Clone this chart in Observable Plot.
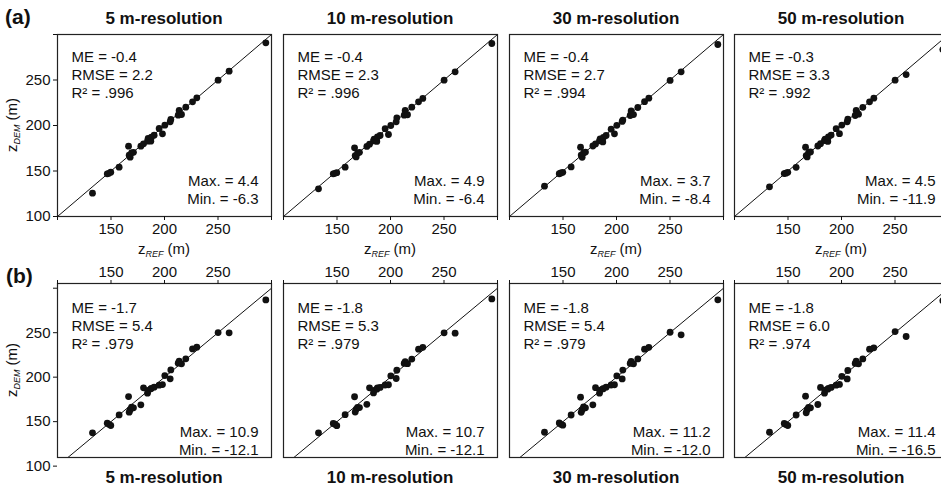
<!DOCTYPE html>
<html><head><meta charset="utf-8">
<script src="https://cdn.jsdelivr.net/npm/d3@7"></script>
<script src="https://cdn.jsdelivr.net/npm/@observablehq/plot@0.6"></script>
<style>
body{margin:0;background:#fff;overflow:hidden}
#chart{position:relative;width:941px;height:497px;overflow:hidden;font-family:"Liberation Sans",Arial,sans-serif;color:#111;background:#fff}
.lbl{position:absolute;white-space:nowrap;line-height:1}
.c{transform:translate(-50%,-50%)}
.zl{font-size:15px}
.zl sub{font-size:9px;font-style:italic;vertical-align:-3px}
.panel{position:absolute}
</style></head><body><div id="chart"></div>
<script>
// ---------------- data ----------------
const resolutions = ["5 m-resolution", "10 m-resolution", "30 m-resolution", "50 m-resolution"];
const rowLetters = ["(a)", "(b)"];

// reference elevations (same validation points in every panel)
const zRef = [132.7, 146.5, 148.0, 149.8, 157.6, 166.4, 167.0, 167.9, 169.2, 171.0, 177.9, 180.4, 184.1, 184.7, 187.2, 187.8, 190.3, 195.0, 198.1, 200.3, 205.3, 205.9, 212.8, 213.7, 215.9, 219.9, 226.2, 230.2, 250.1, 260.4, 294.7];

// row (a) DEM elevations
const zDemA5  = [125.6, 146.9, 147.5, 148.7, 154.2, 177.3, 167.4, 165.2, 170.0, 170.5, 177.3, 179.9, 182.8, 185.7, 182.8, 187.2, 189.4, 196.7, 190.8, 200.4, 204.0, 206.6, 211.4, 216.5, 212.1, 220.1, 226.0, 230.4, 249.8, 259.7, 290.8];
const zDemA10 = [130.4, 146.9, 147.5, 148.2, 154.2, 175.5, 167.0, 165.5, 169.5, 170.5, 177.0, 179.5, 183.0, 185.0, 182.5, 187.5, 189.0, 196.5, 190.1, 200.0, 204.0, 208.4, 211.4, 216.5, 211.8, 220.1, 226.0, 229.7, 249.8, 259.0, 290.1];
const zDemA30 = [133.3, 147.0, 147.8, 148.5, 154.5, 176.2, 167.5, 165.0, 169.8, 170.8, 177.5, 179.8, 183.2, 185.3, 182.0, 187.0, 189.0, 196.0, 190.8, 200.2, 204.5, 206.0, 211.0, 216.0, 212.0, 219.8, 226.2, 230.0, 249.5, 259.0, 289.0];
const zDemA50 = [132.6, 147.2, 147.6, 148.5, 154.0, 176.2, 167.0, 165.5, 170.0, 171.0, 177.5, 180.0, 183.5, 185.0, 182.5, 187.5, 189.5, 196.5, 191.0, 200.5, 204.0, 207.0, 211.0, 216.5, 212.5, 220.0, 226.0, 230.0, 249.8, 256.0, 283.5];

// row (b) DEM elevations
const zDemB5  = [137.4, 148.3, 147.0, 145.7, 157.6, 178.2, 160.6, 163.5, 166.2, 165.5, 168.9, 188.0, 182.0, 185.0, 186.9, 187.5, 188.7, 191.0, 191.7, 201.8, 198.1, 208.2, 215.7, 217.9, 215.0, 220.6, 231.8, 233.7, 250.1, 249.8, 286.8];
const zDemB10 = [137.4, 148.0, 147.2, 145.5, 157.8, 178.0, 160.8, 163.8, 166.0, 165.8, 169.5, 188.0, 182.3, 185.2, 186.5, 187.8, 188.5, 191.2, 191.5, 201.5, 198.5, 207.8, 215.5, 217.5, 215.2, 220.3, 231.5, 233.5, 249.8, 249.5, 288.0];
const zDemB30 = [138.1, 148.5, 147.0, 146.0, 157.5, 177.5, 160.5, 163.5, 166.5, 165.5, 168.9, 188.2, 182.0, 185.3, 186.8, 187.2, 188.8, 191.2, 191.5, 201.5, 198.0, 208.0, 215.5, 217.8, 215.0, 220.5, 231.5, 233.5, 250.5, 247.6, 287.0];
const zDemB50 = [138.1, 148.0, 146.8, 145.7, 157.5, 178.6, 160.0, 163.5, 166.0, 165.5, 169.3, 188.5, 182.0, 185.5, 186.5, 187.5, 188.5, 191.0, 191.8, 201.0, 198.0, 207.5, 215.5, 218.0, 215.0, 220.5, 231.5, 233.0, 251.3, 245.7, 286.0];

const zDem = [[zDemA5, zDemA10, zDemA30, zDemA50], [zDemB5, zDemB10, zDemB30, zDemB50]];

// statistics printed in the panels
const meVals   = [["-0.4", "-0.4", "-0.4", "-0.3"], ["-1.7", "-1.8", "-1.8", "-1.8"]];
const rmseVals = [["2.2", "2.3", "2.7", "3.3"], ["5.4", "5.3", "5.4", "6.0"]];
const r2Vals   = [[".996", ".996", ".994", ".992"], [".979", ".979", ".979", ".974"]];
const maxVals  = [["4.4", "4.9", "3.7", "4.5"], ["10.9", "10.7", "11.2", "11.4"]];
const minVals  = [["-6.3", "-6.4", "-8.4", "-11.9"], ["-12.1", "-12.1", "-12.0", "-16.5"]];

// axes
const xTicks = [100, 150, 200, 250, 300];
const xTickLabels = [150, 200, 250];
const yTicks = [100, 150, 200, 250, 300];
const yTickLabels = [100, 150, 200, 250];
const xDomain = [100, 300];
const yDomains = [[100, 300], [109.7, 305.3]];
const oneToOne = [80, 320];

// ---------------- layout ----------------
const chart = document.getElementById("chart");
const font = '"Liberation Sans", Arial, sans-serif';
const panelLeft = [57, 283, 509, 734];
const panelW = 214;
const rowTop = [34, 283];
const rowH = [182, 174];
const mL = 50, mR = 6;
const mT = [4, 30], mB = [30, 4];

function addLabel(html, cls, style) {
  const d = document.createElement("div");
  d.className = "lbl " + cls;
  d.innerHTML = html;
  Object.assign(d.style, style);
  chart.appendChild(d);
  return d;
}

for (let r = 0; r < 2; r++) {
  for (let c = 0; c < 4; c++) {
    const data = zRef.map((x, i) => ({x, y: zDem[r][c][i]}));
    const stats = `ME = ${meVals[r][c]}\nRMSE = ${rmseVals[r][c]}\nR² = ${r2Vals[r][c]}`;
    const ext = `Max. = ${maxVals[r][c]}\nMin. = ${minVals[r][c]}`;
    const marks = [
      Plot.line(oneToOne, {x: d => d, y: d => d, clip: true, stroke: "#111", strokeWidth: 1}),
      Plot.dot(data, {x: "x", y: "y", r: 3.4, fill: "#111", stroke: null}),
      Plot.frame({stroke: "#222", strokeWidth: 1.2}),
      Plot.axisX({anchor: r === 0 ? "bottom" : "top", ticks: xTicks, tickSize: 4, tickPadding: 3,
        tickFormat: d => xTickLabels.includes(d) ? String(d) : "", label: null, fontSize: 15}),
      Plot.text([stats], {text: d => d, frameAnchor: "top-left", textAnchor: "start", lineAnchor: "top",
        dx: 14, dy: r === 0 ? 15 : 17, lineHeight: 1.2, fontSize: 15, fill: "#111"}),
      Plot.text([ext], {text: d => d, frameAnchor: "bottom-right", textAnchor: "end", lineAnchor: "bottom",
        dx: -13, dy: r === 0 ? -13 : -3, lineHeight: 1.2, fontSize: 15, fill: "#111"})
    ];
    if (c === 0) {
      marks.push(Plot.axisY({anchor: "left", ticks: yTicks, tickSize: 4, tickPadding: 3,
        tickFormat: d => yTickLabels.includes(d) ? String(d) : "", label: null, fontSize: 15}));
    }
    const p = Plot.plot({
      width: panelW + mL + mR,
      height: rowH[r] + mT[r] + mB[r],
      marginLeft: mL, marginRight: mR, marginTop: mT[r], marginBottom: mB[r],
      x: {domain: xDomain, axis: null},
      y: {domain: yDomains[r], axis: null},
      style: {fontFamily: font, fontSize: "15px", background: "transparent", overflow: "visible", color: "#111"},
      marks
    });
    p.classList.add("panel");
    p.style.position = "absolute";
    p.style.left = (panelLeft[c] - mL) + "px";
    p.style.top = (rowTop[r] - mT[r]) + "px";
    p.style.maxWidth = "none";
    chart.appendChild(p);
  }
}

// column titles
resolutions.forEach((t, c) => {
  const cx = panelLeft[c] + panelW / 2;
  addLabel(t, "c", {left: cx + "px", top: "18px", fontSize: "17px", fontWeight: "bold"});
  addLabel(t, "c", {left: cx + "px", top: "477px", fontSize: "17px", fontWeight: "bold"});
  addLabel("z<sub>REF</sub> (m)", "c zl", {left: cx + "px", top: "250px"});
});

// row letters
addLabel(rowLetters[0], "", {left: "5px", top: "6px", fontSize: "21px", fontWeight: "bold"});
addLabel(rowLetters[1], "", {left: "6px", top: "265px", fontSize: "21px", fontWeight: "bold"});

// y axis titles
[125, 370].forEach(cy => {
  addLabel("z<sub>DEM</sub> (m)", "zl", {left: "13px", top: cy + "px", transform: "translate(-50%,-50%) rotate(-90deg)"});
});
</script></body></html>
